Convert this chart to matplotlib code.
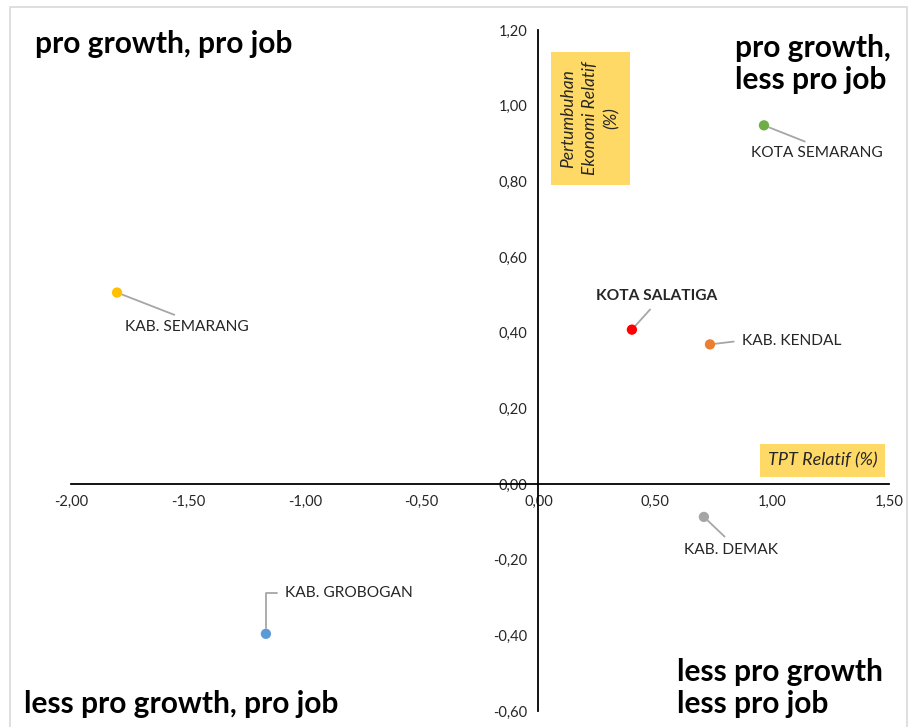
import matplotlib.pyplot as plt
from matplotlib.patches import Rectangle

plt.rcParams['font.family'] = ['Lato', 'DejaVu Sans']

# data
names = ['KOTA SEMARANG', 'KAB. SEMARANG', 'KOTA SALATIGA', 'KAB. KENDAL', 'KAB. DEMAK', 'KAB. GROBOGAN']
tpt = [0.965, -1.803, 0.40, 0.734, 0.708, -1.166]
growth = [0.948, 0.506, 0.408, 0.369, -0.087, -0.396]
colors = ['#70AD47', '#FFC000', '#FF0000', '#ED7D31', '#A5A5A5', '#5B9BD5']
xticks = [-2.0, -1.5, -1.0, -0.5, 0.0, 0.5, 1.0, 1.5]
yticks = [-0.6, -0.4, -0.2, 0.0, 0.2, 0.4, 0.6, 0.8, 1.0, 1.2]

fig = plt.figure(figsize=(9.1, 7.27), dpi=100)
fig.patches.append(Rectangle((10/910, -0.1), 897/910, 1.1 - 7/727, transform=fig.transFigure,
                             fill=False, edgecolor='#D9D9D9', linewidth=1.2))
ax = fig.add_axes([71/910, 16/727, 818/910, 681/727])
ax.set_xlim(-2.0, 1.5)
ax.set_ylim(-0.6, 1.2)
ax.patch.set_alpha(0)

for s in ['top', 'right']:
    ax.spines[s].set_visible(False)
ax.spines['left'].set_position(('data', 0))
ax.spines['bottom'].set_position(('data', 0))
ax.spines['left'].set_linewidth(1.3)
ax.spines['bottom'].set_linewidth(1.3)
ax.tick_params(length=0, labelsize=10.5, labelcolor='#262626', pad=8)
ax.set_xticks(xticks)
ax.set_yticks(yticks)
ax.set_xticklabels([('%.2f' % v).replace('.', ',') for v in xticks])
ax.set_yticklabels([('%.2f' % v).replace('.', ',') for v in yticks])

ax.scatter(tpt, growth, s=55, c=colors, zorder=5, edgecolors='none')

# point labels with leader lines: text x, text y, where the line meets the text
lab_pos = {
    'KOTA SEMARANG': (0.91, 0.874, (0.5, 1.0)),
    'KAB. SEMARANG': (-1.77, 0.416, (0.5, 1.0)),
    'KOTA SALATIGA': (0.245, 0.498, (0.5, 0.0)),
    'KAB. KENDAL': (0.871, 0.379, (0.0, 0.5)),
    'KAB. DEMAK': (0.625, -0.175, (0.5, 1.0)),
    'KAB. GROBOGAN': (-1.084, -0.287, (0.0, 0.5)),
}
for n, x, y in zip(names, tpt, growth):
    tx, ty, rp = lab_pos[n]
    cs = 'arc3'
    if n == 'KAB. GROBOGAN':
        cs = 'angle,angleA=0,angleB=90,rad=0'
    ax.annotate(n, xy=(x, y), xytext=(tx, ty), ha='left', va='center',
                fontsize=11.2, color='#262626',
                fontweight='bold' if n == 'KOTA SALATIGA' else 'normal',
                arrowprops=dict(arrowstyle='-', color='#A6A6A6', lw=1.3, relpos=rp,
                                shrinkA=4, shrinkB=4, connectionstyle=cs))

# axis titles
ax.text(1.45, 0.062, 'TPT Relatif (%)', ha='right', va='center', fontsize=13, style='italic',
        color='#262626', bbox=dict(boxstyle='square,pad=0.45', fc='#FFD966', ec='none'))
ax.text(0.221, 0.967, 'Pertumbuhan\nEkonomi Relatif\n(%)', ha='center', va='center', rotation=90,
        fontsize=12.5, style='italic', color='#262626', linespacing=1.45,
        bbox=dict(boxstyle='square,pad=0.55', fc='#FFD966', ec='none'))

# quadrant labels
qk = dict(fontsize=21.5, fontweight='bold', color='black', transform=fig.transFigure)
fig.text(35/910, 1 - 44/727, 'pro growth, pro job', ha='left', va='center', **qk)
fig.text(735/910, 1 - 64/727, 'pro growth,\nless pro job', ha='left', va='center', linespacing=1.2, **qk)
fig.text(677/910, 1 - 688/727, 'less pro growth\nless pro job', ha='left', va='center', linespacing=1.2, **qk)
fig.text(24/910, 1 - 704/727, 'less pro growth, pro job', ha='left', va='center', **qk)

fig.savefig('out.png', dpi=100)
